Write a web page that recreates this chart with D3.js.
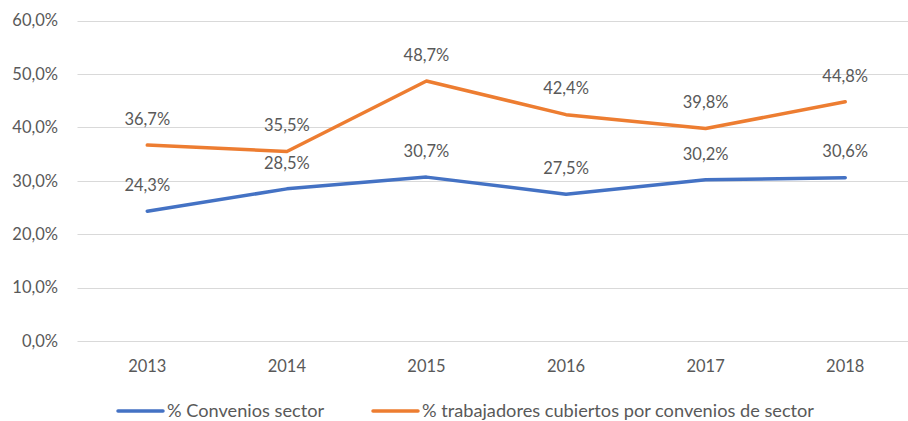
<!DOCTYPE html>
<html>
<head>
    <meta charset="utf-8">
    <script src="https://d3js.org/d3.v7.min.js"></script>
    <style>
        body { margin: 0; background: #fff; }
        text { font-family: Lato, "Open Sans", sans-serif; fill: #595959; }
    </style>
</head>
<body>
    <svg width="908" height="421" id="mainSvg"></svg>
    <script>
        const years = ["2013", "2014", "2015", "2016", "2017", "2018"];
        const convenios = [24.3, 28.5, 30.7, 27.5, 30.2, 30.6];
        const trabajadores = [36.7, 35.5, 48.7, 42.4, 39.8, 44.8];
        const seriesNames = ["% Convenios sector", "% trabajadores cubiertos por convenios de sector"];
        const seriesColors = ["#4472C4", "#ED7D31"];
        const yTicks = [0, 10, 20, 30, 40, 50, 60];

        const svg = d3.select("#mainSvg");
        const plotLeft = 77.5, plotRight = 915, plotTop = 20.7, plotBottom = 341;
        const fmt = v => v.toFixed(1).replace(".", ",") + "%";

        const xScale = d3.scaleBand().domain(years).range([plotLeft, plotRight]);
        const yScale = d3.scaleLinear().domain([0, 60]).range([plotBottom, plotTop]);

        // gridlines
        svg.append("g").selectAll("line").data(yTicks).join("line")
            .attr("x1", plotLeft).attr("x2", plotRight)
            .attr("y1", d => Math.round(yScale(d)) + 0.5)
            .attr("y2", d => Math.round(yScale(d)) + 0.5)
            .attr("stroke", "#d9d9d9").attr("stroke-width", 1);

        // y labels
        svg.append("g").selectAll("text").data(yTicks).join("text")
            .attr("x", 58).attr("y", d => yScale(d))
            .attr("dy", "0.35em").attr("text-anchor", "end")
            .style("font-size", "16.5px")
            .text(d => fmt(d));

        // x labels
        svg.append("g").selectAll("text").data(years).join("text")
            .attr("x", d => xScale(d) + xScale.bandwidth() / 2)
            .attr("y", 366).attr("dy", "0.35em").attr("text-anchor", "middle")
            .style("font-size", "16.5px")
            .text(d => d);

        const line = d3.line()
            .x((d, i) => xScale(years[i]) + xScale.bandwidth() / 2)
            .y(d => yScale(d));

        [convenios, trabajadores].forEach((vals, k) => {
            svg.append("path").datum(vals)
                .attr("d", line)
                .attr("fill", "none")
                .attr("stroke", seriesColors[k])
                .attr("stroke-width", 3.5)
                .attr("stroke-linejoin", "round")
                .attr("stroke-linecap", "round");

            svg.append("g").selectAll("text").data(vals).join("text")
                .attr("x", (d, i) => xScale(years[i]) + xScale.bandwidth() / 2)
                .attr("y", d => yScale(d) - 26)
                .attr("dy", "0.35em").attr("text-anchor", "middle")
                .style("font-size", "16.5px")
                .text(d => fmt(d));
        });

        // legend
        const legendX = [118, 373];
        seriesNames.forEach((name, k) => {
            svg.append("line")
                .attr("x1", legendX[k]).attr("x2", legendX[k] + 45)
                .attr("y1", 411).attr("y2", 411)
                .attr("stroke", seriesColors[k]).attr("stroke-width", 3.5)
                .attr("stroke-linecap", "round");
            svg.append("text")
                .attr("x", legendX[k] + 49).attr("y", 411).attr("dy", "0.35em")
                .style("font-size", "18.2px")
                .text(name);
        });
    </script>
</body>
</html>
